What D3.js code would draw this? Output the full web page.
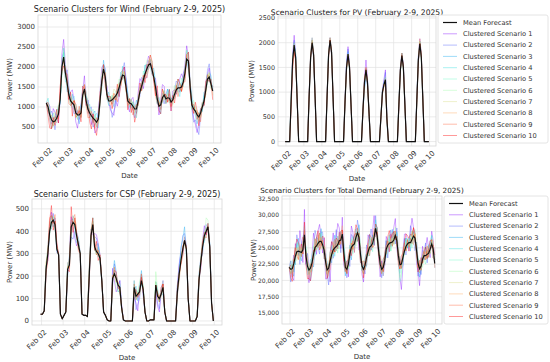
<!DOCTYPE html>
<html>
<head>
<meta charset="utf-8">
<script src="https://cdn.jsdelivr.net/npm/d3@7"></script>
<style>
  body { margin: 0; background: #fff; }
  text { font-family: "DejaVu Sans", sans-serif; fill: #333; }
</style>
</head>
<body>
<div id="chart"></div>
<script>
// 2-hourly time grid, hours after Feb 02 00:00 (UTC)
var hours = d3.range(-1, 192, 2);
var dayTicks = d3.range(2, 11); // Feb 02 .. Feb 10

var scenarioNames = d3.range(1, 11).map(function (k) { return "Clustered Scenario " + k; });
var scenarioColors = ["#8000ff", "#4757fb", "#0ea4f0", "#2adddd", "#63fbc3",
                      "#9cfba4", "#d4dd80", "#ffa457", "#ff572c", "#ff0000"];

// ---- Wind (MW) ----
var windMean = [1100,
  1000, 800, 680, 630, 650, 720, 820, 1200, 2000, 2250, 1850, 1600,
  1300, 1150, 1100, 1050, 850, 800, 800, 850, 1300, 1450, 1150, 950,
  850, 780, 720, 680, 620, 700, 1150, 1650, 1950, 1750, 1300, 1150,
  1150, 1180, 1230, 1280, 1350, 1480, 1650, 1800, 1780, 1500, 1150, 1100,
  1080, 1020, 950, 950, 1150, 1380, 1520, 1680, 1830, 1950, 2050, 2080,
  1930, 1750, 1500, 1200, 1020, 1050, 1230, 1300, 1200, 1230, 1220, 1120,
  1180, 1320, 1430, 1480, 1480, 1500, 1620, 1850, 2200, 2150, 1500, 1050,
  950, 900, 800, 750, 850, 1000, 1150, 1420, 1700, 1750, 1580, 1400];
var windUnit = 110; // deviations below are in steps of 110 MW
var windDev = [
  [0, 1,2,-1,3,2,0,-2,1,3,4,2,1, -1,2,3,1,-2,-3,0,2,1,3,-1,2, 0,-2,1,-3,-2,1,2,3,1,-1,2,0, -2,-3,-4,-1,-3,-2,1,0,2,1,-1,-2,
      1,2,0,-1,2,3,1,-2,0,1,2,1, -1,0,2,1,-2,1,3,2,-1,0,1,-2, 2,1,-1,0,2,3,1,2,3,1,-1,0, -2,-3,-4,-2,0,1,-1,2,1,2,0,1],
  [0, -1,0,2,1,-2,1,0,-1,2,1,-1,3, 2,1,-1,-2,0,1,-1,0,2,1,2,-1, 1,2,-2,-1,0,2,1,-1,1,2,0,-1, -1,-4,-3,-2,0,-1,2,1,3,2,0,1,
      0,-1,-2,1,0,-1,2,0,-1,-2,1,0, 1,-1,0,2,1,-1,0,-2,1,2,0,1, 0,1,2,1,-1,0,2,1,-1,2,1,-1, -3,-2,-3,-4,-1,0,1,0,2,3,1,0],
  [0, 0,-1,-2,0,1,2,1,0,-1,2,0,-2, 1,0,2,-1,1,0,-2,1,0,-1,1,2, -1,0,1,2,-1,-2,0,-1,2,1,-1,0, 1,0,-2,-1,1,-2,0,-1,1,2,2,0,
      -1,1,0,2,-1,0,1,-1,2,0,-1,1, 0,2,1,-1,0,-2,1,0,-1,1,2,0, 1,0,-1,2,1,0,-1,1,0,-2,1,2, 0,-1,-2,0,1,-1,2,0,1,-1,0,1],
  [0, 2,1,0,-1,1,0,2,-1,0,1,-2,0, 0,-1,1,2,0,-1,1,2,-1,0,1,0, 2,0,-1,1,2,0,-1,0,1,-1,0,2, 0,1,-1,0,-1,1,0,2,-1,0,1,-1,
      1,0,-1,-2,0,1,-1,0,2,1,0,-1, -1,1,0,-1,2,0,-1,1,0,2,-1,1, 0,-1,1,0,-2,1,0,-1,2,0,1,-1, 1,0,-1,1,0,-1,1,0,-1,1,2,0],
  [0, -1,1,0,2,0,-1,1,0,-2,1,0,1, 1,0,-1,0,2,1,0,-1,1,0,-1,0, 0,1,2,0,-1,0,1,-2,0,1,0,-1, 1,-1,0,1,0,-1,2,0,1,-1,0,1,
      0,1,0,-1,1,0,-1,2,0,-1,0,1, 2,0,-1,0,1,-1,0,1,-1,0,2,0, -1,0,1,-1,0,2,0,1,0,-1,0,1, 0,1,0,-1,0,1,-1,0,1,0,-1,0],
  [0, 1,0,1,-1,0,1,2,0,-1,2,1,0, -1,1,0,1,-1,0,1,-1,2,1,0,1, 1,-1,0,1,0,-1,2,1,0,-1,1,0, 0,1,0,-1,1,2,0,1,-1,0,-1,1,
      -1,0,1,0,-1,1,0,-1,1,2,1,0, 0,-1,1,0,1,0,-1,0,1,0,-1,0, 1,2,0,1,0,-1,1,0,2,1,0,-1, 2,1,0,1,-1,0,1,2,0,1,0,1],
  [0, 0,1,-1,0,2,1,0,1,2,0,1,-1, 1,2,0,1,0,-1,0,1,-1,0,2,1, -1,0,1,0,1,-1,0,2,1,0,-1,1, 1,0,2,1,0,1,-1,0,1,-1,1,0,
      0,1,-1,0,1,0,1,0,-1,0,1,2, 1,0,-1,1,0,1,2,-1,0,1,0,-1, -1,0,1,2,1,0,-1,1,0,2,-1,0, 1,0,1,-1,0,1,0,-1,1,0,1,-1],
  [0, -1,0,1,-1,0,-1,0,1,-1,0,-1,0, 0,-1,0,1,-1,0,1,0,-1,1,0,-1, 1,0,-1,0,-1,0,1,-1,0,1,-1,0, -1,0,1,-1,0,1,-1,0,1,0,-1,0,
      1,-1,0,1,-1,0,1,-1,0,-1,0,1, -1,0,-1,0,1,-1,0,1,-1,0,1,0, 0,1,-1,0,1,-1,0,-1,1,0,-1,0, -1,0,1,0,-1,1,0,-1,0,1,-1,0],
  [0, 1,-1,-2,0,1,0,-1,2,0,-1,1,0, -2,-1,0,1,-1,0,2,-1,0,1,-1,-2, -1,1,0,-2,1,0,-1,0,-2,1,0,1, 0,-1,1,0,-2,0,1,-1,0,-1,1,0,
      -1,-2,0,1,-1,0,-1,1,0,-2,-1,0, 1,0,-2,-1,0,1,-1,0,1,-1,0,-2, 0,-1,1,-2,0,-1,0,1,-1,0,1,0, 1,0,-1,1,-2,0,-1,0,1,-1,0,1],
  [0, -2,-3,-2,1,-1,2,-2,3,-1,-2,0,2, -1,2,-3,1,2,0,1,-2,2,0,-1,1, -2,-3,1,-2,-3,0,2,-1,1,-2,0,1, 1,-2,0,-1,2,-2,-1,1,2,0,-2,1,
      -2,0,-3,-1,0,2,-1,1,-2,1,0,2, 2,-1,-2,3,-1,-2,2,0,1,-1,2,-1, 1,-2,0,2,1,-1,0,-2,1,2,-1,0, -1,2,1,-2,1,0,-1,2,0,-1,1,-2]
];

// ---- PV (MW) ----
var pvMean = [0,
  0, 0, 0, 850, 1650, 1950, 1700, 850, 0, 0, 0, 0,
  0, 0, 0, 900, 1700, 2000, 1750, 900, 0, 0, 0, 0,
  0, 0, 0, 900, 1750, 2050, 1800, 900, 0, 0, 0, 0,
  0, 0, 0, 800, 1500, 1770, 1500, 750, 0, 0, 0, 0,
  0, 0, 0, 650, 1200, 1450, 1200, 600, 0, 0, 0, 0,
  0, 0, 0, 500, 1000, 1150, 1250, 450, 0, 0, 0, 0,
  0, 0, 0, 750, 1450, 1740, 1500, 750, 0, 0, 0, 0,
  0, 0, 0, 850, 1650, 1980, 1700, 850, 0, 0, 0, 0];
var pvUnit = 50;
var pvDev = [
  [0, 0,0,0,1,2,4,1,0,0,0,0,0, 0,0,0,0,1,1,-1,0,0,0,0,0, 0,0,0,1,0,1,0,0,0,0,0,0, 0,0,0,0,2,3,1,0,0,0,0,0,
      0,0,0,1,2,4,2,0,0,0,0,0, 0,0,0,0,1,2,4,1,0,0,0,0, 0,0,0,0,1,1,0,0,0,0,0,0, 0,0,0,1,1,2,1,0,0,0,0,0],
  [0, 0,0,0,0,1,2,0,0,0,0,0,0, 0,0,0,1,1,2,0,-1,0,0,0,0, 0,0,0,0,1,0,-1,0,0,0,0,0, 0,0,0,1,1,2,0,0,0,0,0,0,
      0,0,0,0,-2,-3,-1,0,0,0,0,0, 0,0,0,1,0,1,3,0,0,0,0,0, 0,0,0,0,0,1,1,0,0,0,0,0, 0,0,0,0,2,1,0,0,0,0,0,0],
  [0, 0,0,0,-1,0,1,2,0,0,0,0,0, 0,0,0,0,-1,1,1,0,0,0,0,0, 0,0,0,0,0,1,1,0,0,0,0,0, 0,0,0,0,1,1,-1,0,0,0,0,0,
      0,0,0,-1,-3,-2,0,1,0,0,0,0, 0,0,0,0,-1,0,1,-2,0,0,0,0, 0,0,0,1,0,-1,0,0,0,0,0,0, 0,0,0,0,-1,1,1,0,0,0,0,0],
  [0, 0,0,0,0,-1,0,1,0,0,0,0,0, 0,0,0,1,0,-1,0,0,0,0,0,0, 0,0,0,0,1,-1,0,0,0,0,0,0, 0,0,0,0,-1,0,0,1,0,0,0,0,
      0,0,0,0,1,0,-1,0,0,0,0,0, 0,0,0,-1,0,1,0,1,0,0,0,0, 0,0,0,0,1,0,-1,0,0,0,0,0, 0,0,0,1,0,-1,0,0,0,0,0,0],
  [0, 0,0,0,1,0,-1,0,1,0,0,0,0, 0,0,0,0,1,0,-1,0,0,0,0,0, 0,0,0,-1,0,0,1,0,0,0,0,0, 0,0,0,0,0,-1,0,0,0,0,0,0,
      0,0,0,1,0,-1,1,0,0,0,0,0, 0,0,0,0,1,-1,0,0,0,0,0,0, 0,0,0,0,-1,1,0,0,0,0,0,0, 0,0,0,0,1,0,-1,1,0,0,0,0],
  [0, 0,0,0,0,1,0,-1,0,0,0,0,0, 0,0,0,-1,0,1,0,0,0,0,0,0, 0,0,0,0,1,0,0,-1,0,0,0,0, 0,0,0,1,0,0,-1,0,0,0,0,0,
      0,0,0,0,-1,1,0,0,0,0,0,0, 0,0,0,1,0,0,-1,0,0,0,0,0, 0,0,0,0,0,1,0,-1,0,0,0,0, 0,0,0,-1,0,1,0,0,0,0,0,0],
  [0, 0,0,0,0,-1,1,0,0,0,0,0,0, 0,0,0,0,1,2,1,0,0,0,0,0, 0,0,0,1,0,1,0,0,0,0,0,0, 0,0,0,0,-1,0,1,0,0,0,0,0,
      0,0,0,0,1,0,0,0,0,0,0,0, 0,0,0,0,-1,0,1,0,0,0,0,0, 0,0,0,1,0,0,-1,0,0,0,0,0, 0,0,0,0,1,1,0,0,0,0,0,0],
  [0, 0,0,0,1,0,0,-1,0,0,0,0,0, 0,0,0,0,2,1,0,0,0,0,0,0, 0,0,0,0,-1,1,0,1,0,0,0,0, 0,0,0,-1,0,0,1,0,0,0,0,0,
      0,0,0,0,0,-1,0,1,0,0,0,0, 0,0,0,1,0,0,-1,0,0,0,0,0, 0,0,0,0,1,-1,0,0,0,0,0,0, 0,0,0,0,0,2,1,0,0,0,0,0],
  [0, 0,0,0,-2,-2,-3,-1,0,0,0,0,0, 0,0,0,0,-1,0,1,0,0,0,0,0, 0,0,0,0,1,0,-1,0,0,0,0,0, 0,0,0,0,-1,-1,0,0,0,0,0,0,
      0,0,0,0,1,0,-1,0,0,0,0,0, 0,0,0,-1,0,-1,0,0,0,0,0,0, 0,0,0,0,0,1,-1,0,0,0,0,0, 0,0,0,-1,0,0,1,0,0,0,0,0],
  [0, 0,0,0,-3,-4,-2,-1,0,0,0,0,0, 0,0,0,1,0,-1,0,0,0,0,0,0, 0,0,0,0,-1,0,1,0,0,0,0,0, 0,0,0,1,0,-1,0,0,0,0,0,0,
      0,0,0,-1,0,1,0,0,0,0,0,0, 0,0,0,0,-1,0,-1,0,0,0,0,0, 0,0,0,-1,0,0,1,0,0,0,0,0, 0,0,0,0,-1,0,0,1,0,0,0,0]
];

// ---- CSP (MW) ----
var cspMean = [30,
  30, 45, 230, 300, 400, 440, 450, 430, 320, 295, 30, 10,
  25, 40, 230, 250, 420, 440, 430, 380, 340, 300, 30, 25,
  25, 20, 200, 380, 430, 330, 310, 300, 280, 180, 40, 25,
  5, 0, 0, 190, 210, 190, 160, 150, 60, 5, 0, 0,
  0, 0, 0, 150, 110, 120, 130, 180, 140, 40, 0, 0,
  5, 5, 5, 160, 110, 100, 120, 150, 40, 0, 0, 0,
  0, 0, 0, 130, 210, 270, 320, 360, 320, 100, 0, 0,
  0, 0, 20, 180, 260, 330, 380, 400, 420, 330, 80, 0];
var cspUnit = 15;
var cspDev = [
  [0, 0,0,1,-2,2,3,-1,2,1,0,0,0, 0,0,-1,2,3,-2,-4,-3,1,0,0,0, 0,0,2,1,-3,4,5,3,1,0,0,0, 0,0,0,3,-2,-4,-1,2,1,0,0,0,
      0,0,0,-3,-2,-5,1,2,-1,0,0,0, 0,0,0,-2,-3,-4,1,2,0,0,0,0, 0,0,0,2,3,2,-1,1,0,0,0,0, 0,0,0,1,-2,2,3,-1,1,0,0,0],
  [0, 0,0,-1,2,1,-2,2,0,-1,0,0,0, 0,0,2,1,-3,-5,-2,1,2,0,0,0, 0,0,-1,2,-2,3,4,1,-1,0,0,0, 0,0,0,-2,3,1,-1,2,0,0,0,0,
      0,0,0,2,-4,-3,-2,1,-2,0,0,0, 0,0,0,-1,-2,-3,2,1,0,0,0,0, 0,0,0,-1,2,3,4,2,1,0,0,0, 0,0,0,2,1,-2,1,2,0,1,0,0],
  [0, 0,0,1,-1,0,2,-2,1,0,0,0,0, 0,0,-2,3,2,1,-1,-2,0,0,0,0, 0,0,1,0,2,-1,2,3,0,0,0,0, 0,0,0,1,4,2,-2,-1,0,0,0,0,
      0,0,0,-1,3,-2,1,3,0,0,0,0, 0,0,0,1,2,-1,0,-2,0,0,0,0, 0,0,0,2,1,4,3,4,-2,0,0,0, 0,0,0,-1,2,1,-2,0,1,0,0,0],
  [0, 0,0,0,1,-1,2,0,-1,1,0,0,0, 0,0,1,0,-1,2,1,0,-1,0,0,0, 0,0,0,-1,1,0,-1,2,0,0,0,0, 0,0,0,-1,0,1,0,-1,0,0,0,0,
      0,0,0,1,-1,0,2,-1,0,0,0,0, 0,0,0,0,1,-1,0,1,0,0,0,0, 0,0,0,-1,0,1,-1,0,1,0,0,0, 0,0,0,1,0,-1,1,0,-1,1,0,0],
  [0, 0,0,-1,0,1,-1,1,0,0,0,0,0, 0,0,0,1,0,-1,0,1,0,0,0,0, 0,0,1,0,-1,1,0,-1,1,0,0,0, 0,0,0,0,1,-1,0,1,0,0,0,0,
      0,0,0,-1,0,1,-1,0,1,0,0,0, 0,0,0,1,0,-1,1,0,0,0,0,0, 0,0,0,0,-1,1,0,-1,0,0,0,0, 0,0,0,0,1,0,-1,1,0,-1,0,0],
  [0, 0,0,2,1,3,-2,1,2,0,0,0,0, 0,0,1,2,-1,-2,1,0,2,0,0,0, 0,0,3,1,2,-1,0,1,-1,0,0,0, 0,0,0,-1,2,-3,-2,1,0,0,0,0,
      0,0,0,2,-1,1,3,2,1,0,0,0, 0,0,0,4,2,-1,1,2,1,0,0,0, 0,0,0,1,-2,1,0,-1,0,0,0,0, 0,0,1,2,0,3,-1,4,2,0,0,0],
  [0, 0,0,1,2,-1,1,0,-1,1,0,0,0, 0,0,2,1,1,-1,2,0,1,0,0,0, 0,0,1,2,1,0,-1,1,0,0,0,0, 0,0,0,1,0,-1,1,0,0,0,0,0,
      0,0,0,0,1,0,-1,1,0,0,0,0, 0,0,0,1,0,1,-1,0,0,0,0,0, 0,0,0,0,1,-1,0,1,0,0,0,0, 0,0,0,1,-1,0,1,0,1,0,0,0],
  [0, 0,0,2,0,1,2,-1,1,0,0,0,0, 0,0,1,-1,2,0,1,-1,0,0,0,0, 0,0,2,0,-1,1,1,0,1,0,0,0, 0,0,0,1,-1,1,0,-1,0,0,0,0,
      0,0,0,-1,1,0,1,0,-1,0,0,0, 0,0,0,0,-1,1,0,1,0,0,0,0, 0,0,0,1,0,-1,1,0,0,0,0,0, 0,0,0,0,1,1,-1,1,0,0,0,0],
  [0, 0,0,-2,1,4,2,-1,3,1,0,0,0, 0,0,-1,2,-1,1,3,1,-2,0,0,0, 0,0,1,-2,0,2,-1,1,0,0,0,0, 0,0,0,0,2,-1,1,-1,0,0,0,0,
      0,0,0,1,-1,0,-1,2,0,0,0,0, 0,0,0,-1,1,0,2,1,0,0,0,0, 0,0,0,-1,-2,0,1,-1,0,0,0,0, 0,0,0,-1,1,2,0,-2,1,0,0,0],
  [0, 0,0,-1,-2,3,5,-3,1,2,0,0,0, 0,0,0,-2,6,-3,2,1,-1,0,0,0, 0,0,-2,1,2,-1,3,-2,1,0,0,0, 0,0,0,-1,1,2,-1,0,0,0,0,0,
      0,0,0,-1,2,-1,0,1,0,0,0,0, 0,0,0,0,1,-1,0,1,0,0,0,0, 0,0,0,1,0,-1,-2,0,1,0,0,0, 0,0,0,1,-1,0,1,-1,0,0,0,0]
];

// ---- Total demand (MW) ----
var demandMean = [22000,
  21700, 21800, 22600, 23700, 24400, 24500, 24400, 24300, 24700, 27000, 23800, 22200,
  21600, 21900, 22700, 24000, 25100, 25300, 25700, 26000, 26000, 25500, 24600, 22800,
  21600, 21900, 23000, 24000, 24700, 25000, 25200, 25500, 26100, 26200, 27100, 24300,
  22000, 21700, 22500, 24100, 25100, 25400, 25600, 26600, 27300, 26600, 24000, 22200,
  21700, 22300, 23500, 24400, 25100, 25300, 25700, 26700, 28000, 26800, 24500, 22500,
  21700, 22000, 23000, 24800, 25400, 25700, 25800, 25900, 26200, 26900, 26100, 23800,
  22400, 22500, 23500, 24500, 25200, 25600, 25800, 25800, 26300, 26800, 26500, 24600,
  22600, 21800, 22200, 23300, 23800, 23800, 24000, 24200, 24800, 25600, 24800, 22600];
var demandUnit = 650;
var demandDev = [
  [0, 2,-2,-4,3,1,-1,5,2,-3,6,-2,-1, -3,-1,2,5,1,-2,3,4,1,-2,3,-4, -2,1,-5,2,4,-1,2,5,3,-2,4,-3, -1,2,-3,1,5,3,-2,2,1,-3,2,-2,
      -3,1,-2,4,2,-1,3,5,-2,1,-1,-3, 2,-2,-1,3,1,-2,2,1,3,4,-2,-1, -3,-6,-2,4,3,1,-2,3,5,2,1,-3, -2,-4,1,3,-1,2,4,1,-2,3,2,-1],
  [0, -3,1,2,-2,4,1,-3,2,3,1,-2,3, 1,-3,-2,1,4,2,-1,-3,2,3,-1,2, -1,-4,2,3,-2,1,4,-1,2,-3,1,2, 2,-2,1,-3,3,2,1,-1,3,2,-2,1,
      1,-2,3,-1,2,4,1,-2,3,-1,2,1, -2,1,-1,2,-3,1,3,-1,2,-2,3,1, 1,-1,2,3,-2,1,-1,4,2,-1,-3,2, -3,1,-2,2,1,3,-2,1,2,-1,1,2],
  [0, 1,-1,-3,2,1,3,-1,-2,1,-1,2,0, -1,2,1,-3,-1,2,1,-1,3,1,-2,1, 2,-1,1,-2,1,3,-1,2,-1,1,-2,-1, -2,1,-1,2,-3,1,2,1,-2,3,1,-1,
      1,-1,-2,1,3,-1,2,-2,1,2,-1,2, -1,2,1,-2,1,2,-1,3,-1,1,2,-1, 2,-1,-2,1,2,-1,1,-2,2,1,-1,1, 1,-2,-1,1,-1,2,1,-1,1,2,-2,1],
  [0, -1,1,-2,1,2,-1,1,-1,2,-2,1,-1, 1,-1,2,1,-2,1,-1,2,1,-1,1,2, -1,1,-1,2,1,-2,1,1,-1,2,-1,1, 1,-1,2,-1,1,2,-1,1,-2,1,1,-1,
      -1,2,1,-1,-2,1,1,-1,2,1,-1,1, 1,-1,1,2,-1,1,-2,1,1,-1,2,-1, -2,1,-1,1,2,-1,1,2,-1,1,-1,2, 1,-1,2,-1,1,1,-1,2,-1,1,-1,1],
  [0, 2,-1,1,-2,1,2,-1,1,-1,2,1,-2, -1,1,-2,1,2,-1,1,-1,2,-1,1,1, 1,-1,2,-1,-1,2,1,-2,1,1,-1,2, -1,2,-1,1,1,-2,1,2,-1,1,-2,1,
      2,-1,1,-1,1,2,-2,1,-1,2,1,-1, -1,1,2,-1,-2,1,1,-1,2,-1,1,-1, -4,-3,1,-1,2,1,-1,1,-2,1,2,-1, 1,2,-1,1,-1,-2,1,-1,1,2,-1,1],
  [0, -1,2,1,-1,-2,1,2,-1,1,-1,2,1, 1,-2,1,2,-1,1,-1,2,-1,1,1,-2, -1,1,2,-1,1,-1,2,1,-2,1,-1,1, 2,-1,-1,1,2,-1,1,-2,1,1,2,-1,
      -1,1,-2,1,-1,2,1,-1,1,-2,1,1, 1,-2,1,-1,1,1,-2,1,-1,2,-1,1, -3,-2,1,2,-1,1,1,-1,2,-1,1,-2, -1,1,1,-2,1,-1,2,1,-1,1,1,-1],
  [0, 1,1,-1,2,-1,1,-2,1,1,-1,1,-1, -1,1,1,-1,2,-1,1,1,-2,1,-1,1, 1,-2,1,1,-1,1,-1,2,1,-1,1,-1, -1,1,-1,2,1,-1,1,-1,1,2,-1,1,
      1,-1,1,-1,2,1,-1,1,-2,1,1,-1, -1,1,-1,1,-1,2,1,-1,1,-1,1,2, 1,-1,2,1,-1,1,-1,1,2,-1,1,-1, -1,1,-1,1,2,-1,1,-1,1,1,-2,1],
  [0, -1,-1,1,-1,1,-2,1,1,-1,1,-1,1, 1,-1,-1,1,-1,1,2,-1,1,-1,1,-1, -1,1,1,-1,2,-1,-1,1,-1,1,2,-1, 1,-1,1,1,-1,1,-2,1,-1,1,1,-1,
      -1,1,-1,2,-1,-1,1,1,-1,-1,1,1, 1,-1,1,-1,1,-1,1,2,-1,1,-1,-1, -1,1,-1,1,-1,1,-1,1,1,-2,1,1, 1,-1,1,-1,-1,1,-1,1,-1,1,2,-1],
  [0, 1,-2,1,2,-1,-2,1,-1,3,-2,1,2, -2,1,-1,-2,2,1,-1,2,-1,1,-2,1, 1,-1,-2,1,-1,2,1,-1,2,-1,1,-2, -1,2,1,-1,1,-1,2,1,-2,1,-1,1,
      2,-1,-1,1,-2,1,1,2,-1,1,-2,-1, -1,2,1,-1,1,-2,1,-1,2,1,-1,1, 1,-1,1,2,-1,1,-2,1,-1,2,1,-1, -1,2,-1,1,1,-1,2,-1,1,-1,1,2],
  [0, -2,-3,1,2,3,2,1,2,-1,3,-2,-3, -2,-3,-1,1,-1,2,3,-2,-1,2,3,1, -2,-1,2,3,1,-1,2,1,-1,2,1,-2, 1,-1,2,1,-2,1,2,3,1,-1,-2,1,
      -2,1,1,2,3,2,-1,-2,1,2,-1,2, 1,-1,2,1,2,3,1,2,2,-1,1,-2, -1,2,1,2,3,2,1,2,1,2,-1,1, -2,1,2,-1,1,2,-1,1,2,1,-2,1]
];

var windTicks = [500, 1000, 1500, 2000, 2500, 3000];
var pvTicks = [0, 500, 1000, 1500, 2000, 2500];
var cspTicks = [0, 100, 200, 300, 400, 500];
var demandTicks = [15000, 17500, 20000, 22500, 25000, 27500, 30000, 32500];

var W = 550, H = 362;
var svg = d3.select("#chart").append("svg").attr("width", W).attr("height", H);

var t0 = Date.UTC(2025, 1, 2);
var dates = hours.map(function (h) { return new Date(t0 + h * 3600e3); });
var fmtDay = d3.utcFormat("%b %d");

var panels = [
  { title: "Scenario Clusters for Wind (February 2-9, 2025)", mean: windMean, dev: windDev, unit: windUnit,
    ticks: windTicks, fmt: d3.format("d"), ydom: [100, 3300], titleSize: 8, titleY: 11.5, ytSize: 7,
    box: { x0: 38, x1: 221, y0: 15, y1: 143 }, legend: null, ylabX: 10 },
  { title: "Scenario Clusters for PV (February 2-9, 2025)", mean: pvMean, dev: pvDev, unit: pvUnit,
    ticks: pvTicks, fmt: d3.format("d"), ydom: [-90, 2540], titleSize: 7.6, titleY: 14.5, ytSize: 6.4,
    box: { x0: 278, x1: 436, y0: 16, y1: 146 }, legend: { y0: 15, y1: 143 }, ylabX: 252 },
  { title: "Scenario Clusters for CSP (February 2-9, 2025)", mean: cspMean, dev: cspDev, unit: cspUnit,
    ticks: cspTicks, fmt: d3.format("d"), ydom: [-18, 544], titleSize: 8, titleY: 197, ytSize: 7,
    box: { x0: 32, x1: 222, y0: 199, y1: 325 }, legend: null, ylabX: 10 },
  { title: "Scenario Clusters for Total Demand (February 2-9, 2025)", mean: demandMean, dev: demandDev, unit: demandUnit,
    ticks: demandTicks, fmt: d3.format(","), ydom: [13310, 32960], titleSize: 7.2, titleY: 193, ytSize: 6,
    box: { x0: 282, x1: 442, y0: 196, y1: 324 }, legend: { y0: 196, y1: 324 }, ylabX: 254 }
];

panels.forEach(function (p, pi) {
  var b = p.box;
  var ext = d3.extent(dates);
  var pad = (ext[1] - ext[0]) * 0.05;
  var x = d3.scaleUtc().domain([new Date(+ext[0] - pad), new Date(+ext[1] + pad)]).range([b.x0, b.x1]);
  var y = d3.scaleLinear().domain(p.ydom).range([b.y1, b.y0]);
  var g = svg.append("g");

  // grid
  var dayDates = dayTicks.map(function (d) { return new Date(Date.UTC(2025, 1, d)); });
  g.selectAll(".vg").data(dayDates).enter().append("line")
    .attr("x1", function (d) { return x(d); }).attr("x2", function (d) { return x(d); })
    .attr("y1", b.y0).attr("y2", b.y1)
    .attr("stroke", "#e3e3e3").attr("stroke-width", 0.7);
  g.selectAll(".hg").data(p.ticks).enter().append("line")
    .attr("x1", b.x0).attr("x2", b.x1)
    .attr("y1", function (d) { return y(d); }).attr("y2", function (d) { return y(d); })
    .attr("stroke", "#e3e3e3").attr("stroke-width", 0.7);

  // lines
  var clipId = "clip" + pi;
  g.append("clipPath").attr("id", clipId).append("rect")
    .attr("x", b.x0).attr("y", b.y0).attr("width", b.x1 - b.x0).attr("height", b.y1 - b.y0);
  var lines = g.append("g").attr("clip-path", "url(#" + clipId + ")");
  var line = d3.line().x(function (d, i) { return x(dates[i]); }).y(function (d) { return y(d); });

  p.dev.forEach(function (row, k) {
    var vals = row.map(function (v, i) { return p.mean[i] + v * p.unit; });
    lines.append("path").datum(vals)
      .attr("d", line).attr("fill", "none")
      .attr("stroke", scenarioColors[k]).attr("stroke-opacity", 0.4).attr("stroke-width", 0.9);
  });
  lines.append("path").datum(p.mean)
    .attr("d", line).attr("fill", "none")
    .attr("stroke", "#111").attr("stroke-width", 1.15);

  // frame
  g.append("rect").attr("x", b.x0).attr("y", b.y0).attr("width", b.x1 - b.x0).attr("height", b.y1 - b.y0)
    .attr("fill", "none").attr("stroke", "#d6d6d6").attr("stroke-width", 0.8);

  // y tick labels
  g.selectAll(".yt").data(p.ticks).enter().append("text")
    .attr("x", b.x0 - 3).attr("y", function (d) { return y(d); })
    .attr("dy", "0.35em").attr("text-anchor", "end")
    .style("font-size", p.ytSize + "px")
    .text(p.fmt);

  // x tick labels
  g.selectAll(".xt").data(dayDates).enter().append("text")
    .attr("transform", function (d) { return "translate(" + (x(d) + 2) + "," + (b.y1 + 4) + ") rotate(-45)"; })
    .attr("text-anchor", "end").attr("dy", "0.7em")
    .style("font-size", "7.3px")
    .text(fmtDay);

  // titles & axis labels
  g.append("text").attr("x", (b.x0 + b.x1) / 2).attr("y", p.titleY)
    .attr("text-anchor", "middle").style("font-size", p.titleSize + "px").style("fill", "#222")
    .text(p.title);
  g.append("text").attr("x", (b.x0 + b.x1) / 2).attr("y", b.y1 + 35)
    .attr("text-anchor", "middle").style("font-size", "7px")
    .text("Date");
  g.append("text").attr("transform", "translate(" + p.ylabX + "," + ((b.y0 + b.y1) / 2) + ") rotate(-90)")
    .attr("text-anchor", "middle").attr("dy", "0.35em").style("font-size", "7px")
    .text("Power (MW)");

  // legend
  if (p.legend) {
    var lx = b.x1 + 2, ly = p.legend.y0, lw = 548 - lx, lh = p.legend.y1 - p.legend.y0;
    var lg = g.append("g");
    lg.append("rect").attr("x", lx).attr("y", ly).attr("width", lw).attr("height", lh)
      .attr("rx", 2).attr("fill", "#fff").attr("stroke", "#dddddd").attr("stroke-width", 0.8);
    var items = [{ name: "Mean Forecast", color: "#111", op: 1, w: 1.2 }].concat(
      scenarioNames.map(function (n, k) { return { name: n, color: scenarioColors[k], op: 0.4, w: 1.0 }; }));
    var step = (lh - 15) / 10;
    items.forEach(function (it, i) {
      var yy = ly + 7.5 + i * step;
      lg.append("line").attr("x1", lx + 5).attr("x2", lx + 19).attr("y1", yy).attr("y2", yy)
        .attr("stroke", it.color).attr("stroke-opacity", it.op).attr("stroke-width", it.w);
      lg.append("text").attr("x", lx + 25).attr("y", yy).attr("dy", "0.35em")
        .style("font-size", "6.7px").text(it.name);
    });
  }
});
</script>
</body>
</html>
